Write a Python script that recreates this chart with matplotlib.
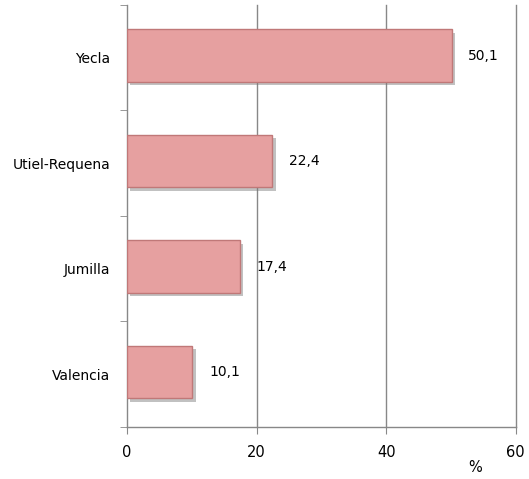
import matplotlib
matplotlib.use("Agg")
import matplotlib.pyplot as plt
import matplotlib.patheffects as pe
import numpy as np

categories = ["Yecla", "Utiel-Requena", "Jumilla", "Valencia"]
values = [50.1, 22.4, 17.4, 10.1]
value_labels = ["50,1", "22,4", "17,4", "10,1"]
xticks = [0, 20, 40, 60]

plt.rcParams['font.family'] = ['DejaVu Sans']
fig = plt.figure(figsize=(5.29, 4.79), dpi=100)
ax = fig.add_axes([0.240, 0.1086, 0.735, 0.881])

ypos = np.arange(len(categories))[::-1]
bars = ax.barh(ypos + 0.02, values, height=0.5, color="#E6A0A0", edgecolor="#C07878",
               linewidth=1.0, zorder=3)
for b in bars:
    b.set_path_effects([pe.SimplePatchShadow(offset=(2.5, -2.5), shadow_rgbFace="#777777", alpha=0.45),
                        pe.Normal()])

for y, v, lab in zip(ypos, values, value_labels):
    ax.annotate(lab, (v, y + 0.02), xytext=(12, 0), textcoords="offset points",
                va="center", ha="left", fontsize=10, color="black")

ax.set_xlim(0, 60)
ax.set_ylim(-0.5, len(categories) - 0.5)
ax.set_xticks(xticks)
ax.set_xticklabels([str(t) for t in xticks], fontsize=10.5)
ax.set_yticks(ypos)
ax.set_yticklabels(categories, fontsize=10)
ax.set_yticks(np.arange(-0.5, len(categories), 1.0), minor=True)
ax.tick_params(axis='y', which='major', length=0, pad=12)
ax.tick_params(axis='y', which='minor', length=5, color="#888888", direction='out')
ax.tick_params(axis='x', which='major', length=5, color="#888888", direction='out', pad=8)

for t in xticks[1:]:
    ax.axvline(t, color="#888888", linewidth=1.0, zorder=0, clip_on=False)
for s in ["top", "right"]:
    ax.spines[s].set_visible(False)
for s in ["left", "bottom"]:
    ax.spines[s].set_color("#888888")
    ax.spines[s].set_linewidth(1.0)

fig.text(475 / 529, 1 - 468 / 479, "%", fontsize=10.5, ha="center", va="center")

fig.savefig("out.png", dpi=100)
